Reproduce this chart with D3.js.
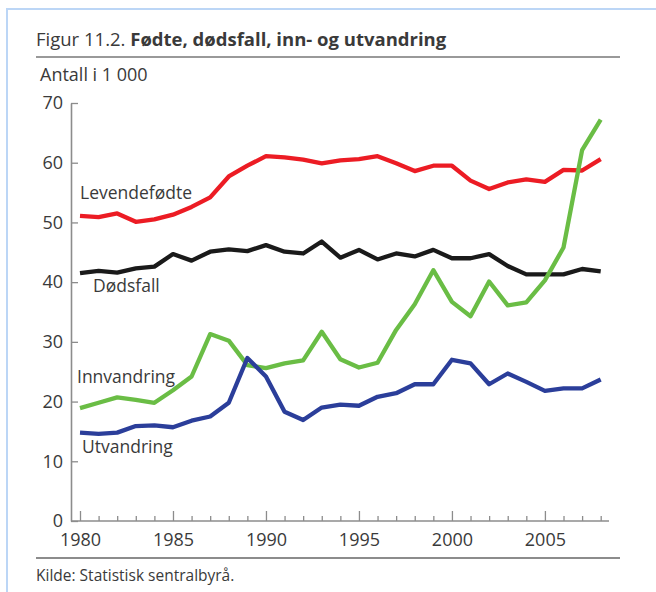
<!DOCTYPE html>
<html>
<head>
<meta charset="utf-8">
<script src="https://cdn.jsdelivr.net/npm/d3@7"></script>
<style>
  body { margin: 0; background: #fff; }
  svg { display: block; font-family: "Open Sans", sans-serif; }
  .axis text { font-family: "Open Sans", sans-serif; }
</style>
</head>
<body>
<svg id="chart" width="656" height="592"></svg>
<script>
// values (antall i 1 000)
const years = d3.range(1980, 2009);
const levendefodte = [51.1, 50.9, 51.5, 50.1, 50.5, 51.3, 52.6, 54.2, 57.7, 59.5,
  61.1, 60.9, 60.5, 59.9, 60.4, 60.6, 61.1, 59.9, 58.6, 59.5,
  59.5, 57.0, 55.6, 56.7, 57.2, 56.8, 58.8, 58.7, 60.6];
const dodsfall = [41.5, 41.9, 41.6, 42.3, 42.6, 44.7, 43.6, 45.1, 45.5, 45.2,
  46.2, 45.1, 44.8, 46.8, 44.1, 45.4, 43.8, 44.8, 44.3, 45.4,
  44.0, 44.0, 44.7, 42.7, 41.3, 41.3, 41.3, 42.2, 41.8];
const innvandring = [18.9, 19.8, 20.7, 20.3, 19.8, 21.9, 24.2, 31.3, 30.2, 26.1,
  25.6, 26.4, 26.9, 31.7, 27.1, 25.7, 26.5, 32.0, 36.3, 42.0,
  36.7, 34.3, 40.1, 36.1, 36.6, 40.3, 45.8, 62.1, 67.2];
const utvandring = [14.8, 14.6, 14.8, 15.9, 16.0, 15.7, 16.8, 17.5, 19.8, 27.3,
  24.2, 18.3, 16.9, 19.0, 19.5, 19.3, 20.8, 21.4, 22.9, 22.9,
  27.0, 26.4, 22.9, 24.7, 23.3, 21.8, 22.2, 22.2, 23.7];

const yTicks = [0, 10, 20, 30, 40, 50, 60, 70];
const xLabelTicks = [1980, 1985, 1990, 1995, 2000, 2005];

const series = [
  { name: "Levendefødte", values: levendefodte, color: "#ec1c24", lx: 80, ly: 199 },
  { name: "Dødsfall", values: dodsfall, color: "#1a1a1a", lx: 93, ly: 292 },
  { name: "Innvandring", values: innvandring, color: "#6abd45", lx: 77, ly: 383 },
  { name: "Utvandring", values: utvandring, color: "#2b3e9a", lx: 82, ly: 453 }
];

const svg = d3.select("#chart");
const textColor = "#3a3a3a";
const axisColor = "#8c8c8c";

// light blue frame of the page
svg.append("path")
  .attr("d", "M7,592 V9 H656")
  .attr("fill", "none")
  .attr("stroke", "#bcd6f6")
  .attr("stroke-width", 2);

// title + rules
const title = svg.append("text")
  .attr("x", 36).attr("y", 46)
  .attr("fill", textColor)
  .attr("font-size", 18.5);
title.append("tspan").text("Figur 11.2. ");
title.append("tspan").attr("font-weight", "bold").text("Fødte, dødsfall, inn- og utvandring");

svg.append("line")
  .attr("x1", 36).attr("x2", 620).attr("y1", 57).attr("y2", 57)
  .attr("stroke", "#777").attr("stroke-width", 1.6);

svg.append("text")
  .attr("x", 40).attr("y", 81)
  .attr("fill", textColor)
  .attr("font-size", 18)
  .text("Antall i 1 000");

const x = d3.scaleLinear().domain([1980, 2008]).range([80, 600.7]);
const y = d3.scaleLinear().domain([0, 70]).range([521, 103]);
const axisLeftX = 71;

// y axis, ticks pointing inward
svg.append("g")
  .attr("class", "axis")
  .attr("transform", `translate(${axisLeftX},0)`)
  .call(d3.axisLeft(y).tickValues(yTicks).tickSizeInner(-7).tickSizeOuter(0).tickPadding(8));

// x axis: minor ticks every year, major every five
const gxMinor = svg.append("g")
  .attr("class", "axis")
  .attr("transform", `translate(0,${y(0)})`)
  .call(d3.axisBottom(x).tickValues(years.filter(d => d % 5 !== 0)).tickSize(-5).tickFormat(""));

const gx = svg.append("g")
  .attr("class", "axis")
  .attr("transform", `translate(0,${y(0)})`)
  .call(d3.axisBottom(x).tickValues(xLabelTicks).tickSize(-10).tickPadding(12).tickFormat(d3.format("d")));

// the baseline runs from the y axis to a bit past 2008
gx.select(".domain").attr("d", `M${axisLeftX},0H609`);
gxMinor.select(".domain").remove();

svg.selectAll(".axis .domain").attr("stroke", axisColor).attr("stroke-width", 1.6);
svg.selectAll(".axis .tick line").attr("stroke", axisColor).attr("stroke-width", 1.3);
svg.selectAll(".axis .tick text").attr("fill", textColor).attr("font-size", 18);

// lines
const line = d3.line()
  .x((d, i) => x(years[i]))
  .y(d => y(d));

svg.append("g")
  .selectAll("path")
  .data(series)
  .join("path")
  .attr("d", d => line(d.values))
  .attr("fill", "none")
  .attr("stroke", d => d.color)
  .attr("stroke-width", 4.3)
  .attr("stroke-linejoin", "round");

svg.append("g")
  .selectAll("text")
  .data(series)
  .join("text")
  .attr("x", d => d.lx)
  .attr("y", d => d.ly)
  .attr("fill", textColor)
  .attr("font-size", 17.5)
  .text(d => d.name);

// bottom rule + source
svg.append("line")
  .attr("x1", 36).attr("x2", 620).attr("y1", 558).attr("y2", 558)
  .attr("stroke", "#8c8c8c").attr("stroke-width", 2);

svg.append("text")
  .attr("x", 36).attr("y", 581)
  .attr("fill", textColor)
  .attr("font-size", 15.5)
  .text("Kilde: Statistisk sentralbyrå.");
</script>
</body>
</html>
